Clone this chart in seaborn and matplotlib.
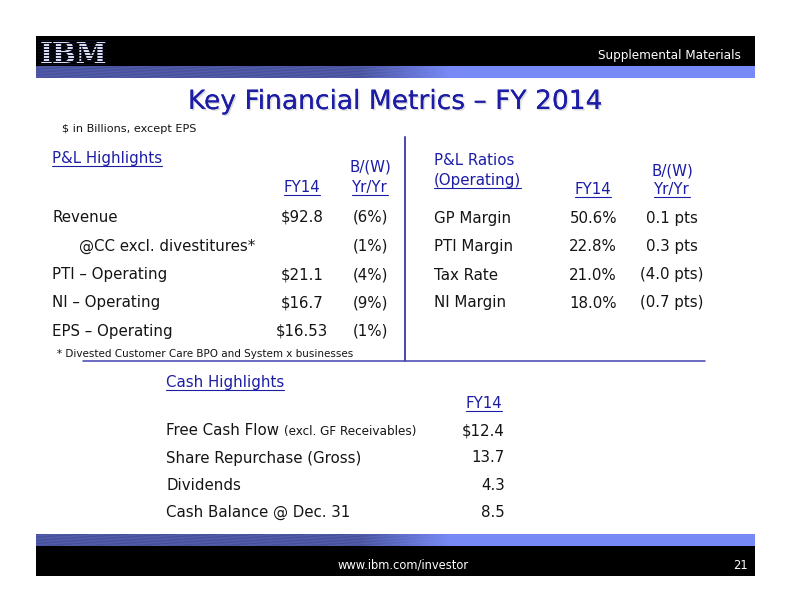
import numpy as np
import matplotlib
matplotlib.use("Agg")
import matplotlib.pyplot as plt
import matplotlib.patheffects as pe
import seaborn as sns

# ---- data ----
pl_labels = ["Revenue", "@CC excl. divestitures*", "PTI \u2013 Operating",
             "NI \u2013 Operating", "EPS \u2013 Operating"]
pl_indent = [False, True, False, False, False]
pl_fy14 = [92.8, None, 21.1, 16.7, 16.53]
pl_yy_pct = [-6, -1, -4, -9, -1]

ratio_labels = ["GP Margin", "PTI Margin", "Tax Rate", "NI Margin"]
ratio_fy14 = [50.6, 22.8, 21.0, 18.0]
ratio_yy_pts = [0.1, 0.3, -4.0, -0.7]

cash_labels = ["Free Cash Flow", "Share Repurchase (Gross)", "Dividends", "Cash Balance @ Dec. 31"]
cash_notes = ["(excl. GF Receivables)", "", "", ""]
cash_fy14 = [12.4, 13.7, 4.3, 8.5]

title = "Key Financial Metrics \u2013 FY 2014"
page_no = "21"

# ---- style ----
sns.set_theme(style="white")
plt.rcParams["font.family"] = ["DejaVu Sans"]

BLUE = "#1c1ca6"
TXT = "#141414"
LINE = "#4a4ab2"
ROW = 15

fig = plt.figure(figsize=(11, 8.5), dpi=72)
ax = fig.add_axes([0, 0, 1, 1])
ax.axis("off")


def band(y0, y1):
    # textured dark blue on the left fading to flat light blue on the right
    xs = np.linspace(36, 755, 720)
    rows = 12
    t = np.clip((xs - 360) / 90.0, 0, 1)[None, :]
    c0 = np.array([0.30, 0.34, 0.64])
    c1 = np.array([0.47, 0.54, 0.96])
    rr = np.arange(rows)[:, None]
    tex = 0.025 * np.sin(xs[None, :] / 7.0 + rr * 2.1) * (1 - t)
    img = (c0[None, None, :] * (1 - t[..., None]) + c1[None, None, :] * t[..., None])
    img = np.repeat(img, rows, axis=0) + tex[..., None]
    ax.imshow(np.clip(img, 0, 1), extent=(36, 755, y1, y0), aspect="auto", zorder=1)


# header / footer bars
ax.fill_between([36, 755], 36, 66, color="black", zorder=1, lw=0)
band(66, 78)
band(534, 546)
ax.fill_between([36, 755], 546, 576, color="black", zorder=1, lw=0)

ax.set_xlim(0, 792)
ax.set_ylim(612, 0)

# IBM logo: bold serif letters cut by dark stripes
ax.text(40, 63, "IBM", family="DejaVu Serif", weight="bold", fontsize=28,
        color="#e4e8ff", va="baseline", ha="left", zorder=2)
for k in range(9):
    ax.plot([38, 106], [39.5 + 3 * k, 39.5 + 3 * k], color="#0a0a20", lw=1.1, zorder=3)

ax.text(741, 59, "Supplemental Materials", color="white", fontsize=12,
        ha="right", va="baseline", zorder=4)
ax.text(403, 569, "www.ibm.com/investor", color="white", fontsize=11.5,
        ha="center", va="baseline", zorder=4)
ax.text(748, 569, page_no, color="white", fontsize=11.5, ha="right", va="baseline", zorder=4)

# title
ax.text(395, 109, title, color=BLUE, fontsize=26.5, ha="center", va="baseline",
        path_effects=[pe.withSimplePatchShadow(offset=(1.5, -1.5), shadow_rgbFace="#9a9a9a", alpha=0.35),
                      pe.Normal()])
ax.text(62, 132, "$ in Billions, except EPS", color=TXT, fontsize=11.3, va="baseline")

underlined = []


def txt(x, y, s, ul=False, **kw):
    kw.setdefault("fontsize", ROW)
    kw.setdefault("color", TXT)
    kw.setdefault("va", "baseline")
    t = ax.text(x, y, s, **kw)
    if ul:
        underlined.append(t)
    return t


def paren(v, unit):
    return f"({abs(v):.1f}{unit})" if v < 0 else f"{v:.1f}{unit}"


# ---- P&L highlights (left) ----
txt(52, 163, "P&L Highlights", ul=True, color=BLUE)
txt(370, 172, "B/(W)", color=BLUE, ha="center")
txt(370, 192, "Yr/Yr", ul=True, color=BLUE, ha="center")
txt(302, 192, "FY14", ul=True, color=BLUE, ha="center")
pl_y = [222, 250.5, 279, 307.5, 336]
for y, lab, ind, v, p in zip(pl_y, pl_labels, pl_indent, pl_fy14, pl_yy_pct):
    txt(79 if ind else 52, y, lab)
    if v is not None:
        txt(302, y, f"${v:g}", ha="center")
    txt(370, y, f"({abs(p)}%)" if p < 0 else f"{p}%", ha="center")
txt(57, 357, "* Divested Customer Care BPO and System x businesses", fontsize=10.4)

# ---- P&L ratios (right) ----
txt(434, 165, "P&L Ratios", color=BLUE)
txt(434, 185, "(Operating)", ul=True, color=BLUE)
txt(593, 194, "FY14", ul=True, color=BLUE, ha="center")
txt(672, 175, "B/(W)", color=BLUE, ha="center")
txt(672, 194, "Yr/Yr", ul=True, color=BLUE, ha="center")
r_y = [223, 251, 279.5, 307.5]
for y, lab, v, p in zip(r_y, ratio_labels, ratio_fy14, ratio_yy_pts):
    txt(434, y, lab)
    txt(617, y, f"{v:.1f}%", ha="right")
    txt(672, y, paren(p, " pts"), ha="center")

# separators
ax.plot([405, 405], [137, 361], color=LINE, lw=2, zorder=2)
ax.plot([83, 705], [361, 361], color=LINE, lw=1.6, zorder=2)

# ---- cash highlights ----
txt(166, 387, "Cash Highlights", ul=True, color=BLUE)
txt(484, 408, "FY14", ul=True, color=BLUE, ha="center")
c_y = [435, 462.5, 490, 517]
for i, (y, lab, note, v) in enumerate(zip(c_y, cash_labels, cash_notes, cash_fy14)):
    t = txt(166, y, lab)
    if note:
        fig.canvas.draw()
        bb = t.get_window_extent(fig.canvas.get_renderer())
        x_end = ax.transData.inverted().transform((bb.x1, bb.y0))[0]
        txt(x_end + 5, y, note, fontsize=12)
    txt(505, y, f"${v:.1f}" if i == 0 else f"{v:.1f}", ha="right")

# underlines under the blue headings
fig.canvas.draw()
rend = fig.canvas.get_renderer()
inv = ax.transData.inverted()
for t in underlined:
    bb = t.get_window_extent(rend)
    x0 = inv.transform((bb.x0, bb.y0))[0]
    x1 = inv.transform((bb.x1, bb.y0))[0]
    yb = t.get_position()[1] + 2.5
    ax.plot([x0, x1], [yb, yb], color=t.get_color(), lw=1.1, zorder=3)

fig.savefig("out.png", dpi=72, facecolor="white")
